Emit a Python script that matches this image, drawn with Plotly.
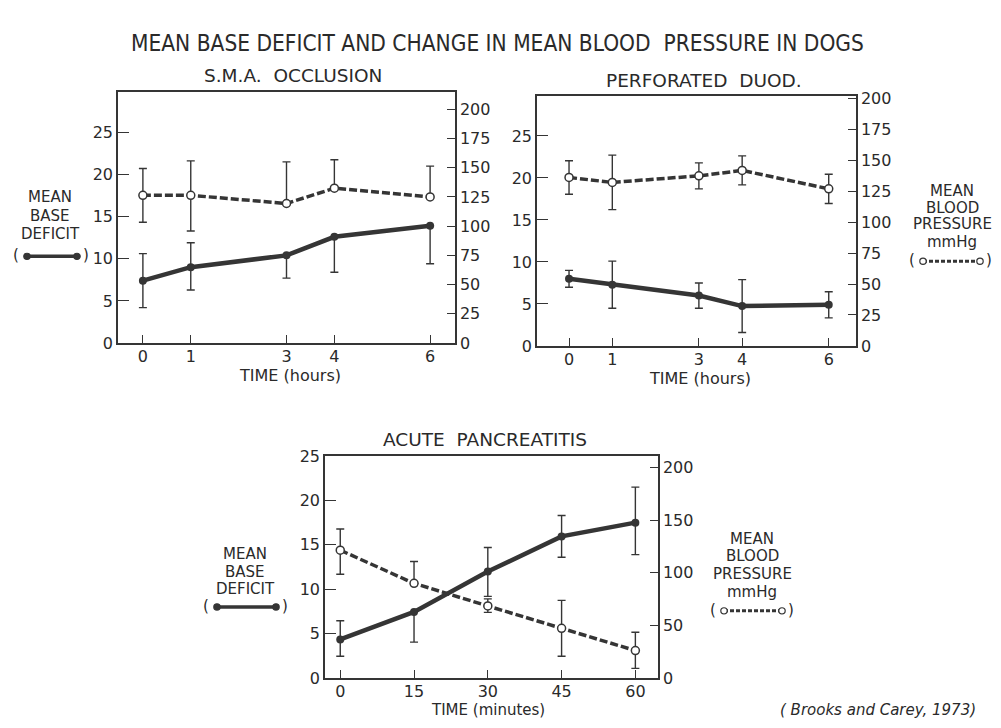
import plotly.graph_objects as go

# ---------------- data ----------------
hours = [0, 1, 3, 4, 6]
minutes = [0, 15, 30, 45, 60]

sma_bd = [7.4, 9.0, 10.4, 12.6, 13.9]
sma_bd_up = [3.2, 2.9, 0, 0, 0]
sma_bd_dn = [3.2, 2.7, 2.7, 4.2, 4.5]
sma_bp = [126.4, 126.4, 119.4, 132.5, 125.0]
sma_bp_up = [23.0, 29.5, 35.6, 24.4, 26.4]
sma_bp_dn = [23.0, 30.5, 0, 0, 0]

pd_bd = [8.0, 7.3, 6.0, 4.75, 4.9]
pd_bd_err = [1.0, 2.8, 1.5, 3.15, 1.55]
pd_bp = [136.0, 132.0, 137.3, 141.7, 126.8]
pd_bp_err = [13.5, 22.0, 10.5, 11.7, 11.8]

ap_bd = [4.35, 7.45, 12.0, 15.95, 17.5]
ap_bd_up = [2.1, 0, 2.7, 2.35, 4.0]
ap_bd_dn = [1.9, 3.4, 2.8, 2.35, 3.6]
ap_bp = [121.5, 90.0, 68.5, 47.3, 26.1]
ap_bp_up = [20.2, 20.7, 6.8, 26.5, 17.5]
ap_bp_dn = [22.8, 0, 6.1, 26.5, 16.9]

bd_ticks = [0, 5, 10, 15, 20, 25]
bp_ticks = [0, 25, 50, 75, 100, 125, 150, 175, 200]
bp_ticks_ap = [0, 50, 100, 150, 200]

# ---------------- styling ----------------
W, H = 1001, 728
INK = "#353535"
TXT = "#2a2a2a"
FONT = "DejaVu Sans"


def X(p):
    return p / W


def Y(p):
    return 1 - p / H


fig = go.Figure()


def bd_trace(x, y, up, dn, xa, ya):
    return go.Scatter(
        x=x, y=y, xaxis=xa, yaxis=ya, mode="lines+markers",
        line=dict(color=INK, width=4.5),
        marker=dict(symbol="circle", size=8, color=INK),
        error_y=dict(type="data", symmetric=False, array=up, arrayminus=dn,
                     color=INK, thickness=1.4, width=4),
        showlegend=False, cliponaxis=False,
    )


def bp_trace(x, y, up, dn, xa, ya):
    return go.Scatter(
        x=x, y=y, xaxis=xa, yaxis=ya, mode="lines+markers",
        line=dict(color=INK, width=3.5, dash="8px,3px"),
        marker=dict(symbol="circle", size=8, color="white",
                    line=dict(color=INK, width=1.5)),
        error_y=dict(type="data", symmetric=False, array=up, arrayminus=dn,
                     color=INK, thickness=1.4, width=4),
        showlegend=False, cliponaxis=False,
    )


fig.add_trace(bd_trace(hours, sma_bd, sma_bd_up, sma_bd_dn, "x", "y"))
fig.add_trace(bp_trace(hours, sma_bp, sma_bp_up, sma_bp_dn, "x", "y2"))
fig.add_trace(bd_trace(hours, pd_bd, pd_bd_err, pd_bd_err, "x2", "y3"))
fig.add_trace(bp_trace(hours, pd_bp, pd_bp_err, pd_bp_err, "x2", "y4"))
fig.add_trace(bd_trace(minutes, ap_bd, ap_bd_up, ap_bd_dn, "x3", "y5"))
fig.add_trace(bp_trace(minutes, ap_bp, ap_bp_up, ap_bp_dn, "x3", "y6"))

tickfont = dict(family=FONT, size=16, color=TXT)


def xax(dom, rng, ticks, anchor):
    return dict(domain=dom, range=rng, tickmode="array", tickvals=ticks,
                ticks="inside", ticklen=8, tickwidth=1.4, tickcolor=INK,
                showline=True, linecolor=INK, linewidth=1.5, mirror=True,
                showgrid=False, zeroline=False, tickfont=tickfont,
                ticklabelstandoff=-2,
                anchor=anchor, fixedrange=True)


def yax_left(dom, rng, ticks, anchor):
    return dict(domain=dom, range=rng, tickmode="array", tickvals=ticks,
                ticks="inside", ticklen=11, tickwidth=1.4, tickcolor=INK,
                showline=True, linecolor=INK, linewidth=1.5,
                showgrid=False, zeroline=False, tickfont=tickfont,
                anchor=anchor, side="left", fixedrange=True)


def yax_right(rng, ticks, anchor, over):
    return dict(range=rng, tickmode="array", tickvals=ticks,
                ticks="inside", ticklen=8, tickwidth=1.4, tickcolor=INK,
                showline=True, linecolor=INK, linewidth=1.5,
                showgrid=False, zeroline=False, tickfont=tickfont,
                anchor=anchor, side="right", overlaying=over, fixedrange=True)


d1x = [X(118), X(455)]
d1y = [Y(343), Y(85)]
d2x = [X(537), X(856)]
d2y = [Y(346), Y(89)]
d3x = [X(325), X(658)]
d3y = [Y(687), Y(459)]

fig.update_layout(
    xaxis=xax(d1x, [-0.52, 6.52], hours, "y"),
    yaxis=yax_left(d1y, [0, 29.8], bd_ticks, "x"),
    yaxis2=yax_right([0, 215], bp_ticks, "x", "y"),
    xaxis2=xax(d2x, [-0.74, 6.63], hours, "y3"),
    yaxis3=yax_left(d2y, [0, 29.8], bd_ticks, "x2"),
    yaxis4=yax_right([0, 202], bp_ticks, "x2", "y3"),
    xaxis3=xax(d3x, [-3.1, 64.6], minutes, "y5"),
    yaxis5=yax_left(d3y, [0, 25], bd_ticks, "x3"),
    yaxis6=yax_right([0, 211], bp_ticks_ap, "x3", "y5"),
)

ann = []


def txt(s, x, y, size=15, family=FONT, xanchor="center"):
    ann.append(dict(text=s, x=X(x), y=Y(y), xref="paper", yref="paper",
                    showarrow=False, xanchor=xanchor, yanchor="middle",
                    borderpad=0,
                    font=dict(family=family, size=size, color=TXT)))


txt("MEAN BASE DEFICIT AND CHANGE IN MEAN BLOOD&nbsp; PRESSURE IN DOGS", 497, 35,
    size=22.5, family="Liberation Sans Narrow, DejaVu Sans Condensed, Liberation Sans")
txt("S.M.A.&nbsp; OCCLUSION", 293, 68, size=18.5)
txt("PERFORATED&nbsp; DUOD.", 704, 73, size=18.5)
txt("ACUTE&nbsp; PANCREATITIS", 485, 442, size=18.5)
txt("TIME (hours)", 290, 376, size=16)
txt("TIME (hours)", 700, 379, size=16)
txt("TIME (minutes)", 488, 720, size=15)

for s, yy in [("MEAN", 193), ("BASE", 213), ("DEFICIT", 231)]:
    txt(s, 50, yy)
for s, yy in [("MEAN", 560), ("BASE", 578), ("DEFICIT", 596)]:
    txt(s, 245, yy)
for s, yy in [("MEAN", 187), ("BLOOD", 204), ("PRESSURE", 221), ("mmHg", 239)]:
    txt(s, 952, yy)
for s, yy in [("MEAN", 544), ("BLOOD", 562), ("PRESSURE", 580), ("mmHg", 599)]:
    txt(s, 752, yy)

txt("<i>( Brooks and Carey, 1973)</i>", 878, 720, size=15)

shapes = []


def legend_glyph(xl, xr, y, filled):
    txt("(", xl - 11, y - 1)
    txt(")", xr + 9, y - 1)
    shapes.append(dict(type="line", xref="paper", yref="paper",
                       x0=X(xl), x1=X(xr), y0=Y(y), y1=Y(y),
                       line=dict(color=INK, width=3.5 if filled else 3,
                                 dash="solid" if filled else "4px,2px")))
    r = 3.2
    for cx in (xl, xr):
        shapes.append(dict(type="circle", xref="paper", yref="paper",
                           x0=X(cx - r), x1=X(cx + r), y0=Y(y + r), y1=Y(y - r),
                           fillcolor=INK if filled else "white",
                           line=dict(color=INK, width=1.2)))


legend_glyph(27, 77, 254, True)
legend_glyph(217, 276, 614, True)
legend_glyph(923, 980, 259, False)
legend_glyph(724, 782, 618, False)

fig.update_layout(
    annotations=ann, shapes=shapes,
    width=W, height=H, margin=dict(l=0, r=0, t=0, b=0),
    paper_bgcolor="white", plot_bgcolor="white",
    showlegend=False,
)

fig.write_html("out.html", config={"displayModeBar": False},
               post_script="document.body.style.margin='0';")
